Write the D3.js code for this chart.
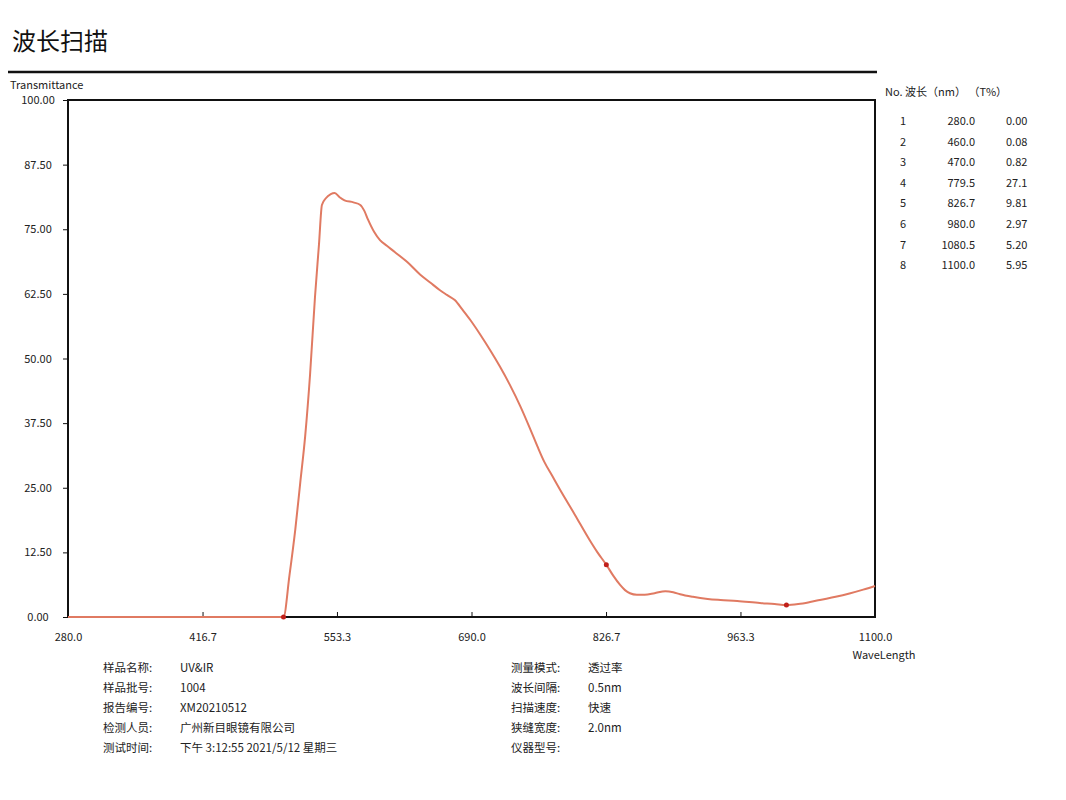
<!DOCTYPE html>
<html><head><meta charset="utf-8">
<script src="https://cdn.jsdelivr.net/npm/d3@7"></script>
<style>body{margin:0;background:#fff}svg text{font-family:"Noto Sans CJK SC","DejaVu Sans",sans-serif}</style>
</head><body><svg id="c" width="1066" height="800"></svg>
<script>
const wavelength=[280,350,420,480,499,505,511,516,521,526,531,535,538,542,547,551,556,561,570,577,581,585,591,597,604,612,625,638,648,658,665,673,681,689,699,709,719,729,740,750,757,764,772,780,795,810,818,827,834,841,846,851,858,866,876,887,895,902,915,930,943,960,983,998,1010,1022,1034,1044,1060,1075,1088,1100];
const transmittance=[0,0,0,0,0,8,17,26,35,47,62,72,79.7,81,81.8,82,81.2,80.6,80.2,79.7,78.6,76.8,74.5,72.9,71.8,70.6,68.6,66.2,64.7,63.2,62.3,61.3,59.4,57.4,54.6,51.6,48.4,44.9,40.6,36.2,33.0,30.0,27.3,24.6,19.8,14.9,12.5,10.1,8.0,6.2,5.2,4.6,4.3,4.3,4.6,5.0,4.8,4.4,3.9,3.5,3.3,3.1,2.7,2.5,2.3,2.5,2.9,3.3,3.9,4.6,5.3,6.0];
const markers=[[499,0],[827,10.1],[1010,2.3]];
const xTicks=[280.0,416.7,553.3,690.0,826.7,963.3,1100.0];
const yTicks=[0,12.5,25,37.5,50,62.5,75,87.5,100];
const tableNo=[1,2,3,4,5,6,7,8];
const tableWl=["280.0","460.0","470.0","779.5","826.7","980.0","1080.5","1100.0"];
const tableT=["0.00","0.08","0.82","27.1","9.81","2.97","5.20","5.95"];
const infoLeft=[["样品名称:","UV&IR"],["样品批号:","1004"],["报告编号:","XM20210512"],["检测人员:","广州新目眼镜有限公司"],["测试时间:","下午  3:12:55  2021/5/12  星期三"]];
const infoRight=[["测量模式:","透过率"],["波长间隔:","0.5nm"],["扫描速度:","快速"],["狭缝宽度:","2.0nm"],["仪器型号:",""]];

const svg=d3.select("#c");
const L=68,R=875,T=100,B=617;
const x=d3.scaleLinear().domain([280,1100]).range([L,R]);
const y=d3.scaleLinear().domain([0,100]).range([B,T]);
svg.append("text").attr("x",12).attr("y",50).attr("font-size",24).attr("fill","#111").text("波长扫描");
svg.append("line").attr("x1",8).attr("x2",877).attr("y1",72).attr("y2",72).attr("stroke","#111").attr("stroke-width",2.5);
svg.append("text").attr("x",10).attr("y",89).attr("font-size",11).attr("fill","#222").text("Transmittance");
svg.append("rect").attr("x",L).attr("y",T).attr("width",R-L).attr("height",B-T).attr("fill","none").attr("stroke","#111").attr("stroke-width",2);
const ya=svg.append("g").attr("transform",`translate(${L},0)`).call(d3.axisLeft(y).tickValues(yTicks).tickSize(5).tickFormat(d3.format(".2f")));
ya.select(".domain").remove();
ya.selectAll("text").attr("x",-30).attr("text-anchor","middle").attr("font-size",11).attr("fill","#222");
ya.selectAll("line").attr("stroke","#111");
const xa=svg.append("g").attr("transform",`translate(0,${B})`).call(d3.axisTop(x).tickValues(xTicks).tickSize(5).tickFormat(d3.format(".1f")));
xa.select(".domain").remove();
xa.selectAll("text").attr("y",24).attr("font-size",11).attr("fill","#222");
xa.selectAll("line").attr("stroke","#111");
svg.append("text").attr("x",884).attr("y",659).attr("text-anchor","middle").attr("font-size",11).attr("fill","#222").text("WaveLength");
svg.append("path").datum(wavelength.map((w,i)=>[w,transmittance[i]]))
 .attr("d",d3.line().x(d=>x(d[0])).y(d=>y(d[1])).curve(d3.curveMonotoneX))
 .attr("fill","none").attr("stroke","#e07a62").attr("stroke-width",2);
svg.selectAll(".m").data(markers).join("circle").attr("cx",d=>x(d[0])).attr("cy",d=>y(d[1])).attr("r",2.5).attr("fill","#c0201a");
const tb=svg.append("g").attr("font-size",11).attr("fill","#222");
tb.append("text").attr("x",885).attr("y",96).text("No.  波长（nm）  （T%）");
tableNo.forEach((n,i)=>{const yy=125+i*20.6;
 tb.append("text").attr("x",900).attr("y",yy).text(n);
 tb.append("text").attr("x",975).attr("y",yy).attr("text-anchor","end").text(tableWl[i]);
 tb.append("text").attr("x",1006).attr("y",yy).text(tableT[i]);});
const inf=svg.append("g").attr("font-size",11.5).attr("fill","#222");
infoLeft.forEach((d,i)=>{const yy=672+i*20;inf.append("text").attr("x",103).attr("y",yy).text(d[0]);inf.append("text").attr("x",180).attr("y",yy).text(d[1]);});
infoRight.forEach((d,i)=>{const yy=672+i*20;inf.append("text").attr("x",511).attr("y",yy).text(d[0]);inf.append("text").attr("x",588).attr("y",yy).text(d[1]);});
</script></body></html>
